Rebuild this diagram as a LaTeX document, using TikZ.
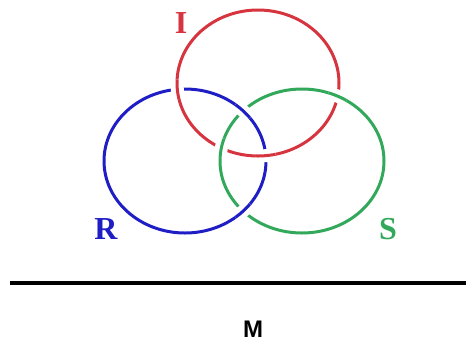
\documentclass[tikz,border=0pt]{standalone}
\usepackage{fontspec}
\setmainfont{Liberation Serif}
\setsansfont{Liberation Sans}
\usetikzlibrary{intersections}
\definecolor{ringred}{RGB}{214,52,62}
\definecolor{ringblue}{RGB}{30,30,196}
\definecolor{ringgreen}{RGB}{50,168,90}

\begin{document}
\begin{tikzpicture}[x=1pt, y=-1pt,
    ring/.style={line width=3pt},
    gap/.style={white, line width=13pt},
    lbl/.style={font=\bfseries\fontsize{32}{32}\selectfont}]
    \useasboundingbox (0,0) rectangle (466,341);
    \coordinate (O_I) at (258,83);
    \coordinate (O_R) at (185,161);
    \coordinate (O_S) at (302,161);
    \draw[ring, ringred, name path=I] (O_I) ellipse [x radius=81pt, y radius=73pt];
    \draw[ring, ringblue, name path=R] (O_R) ellipse [x radius=81pt, y radius=72pt];
    \draw[ring, ringgreen, name path=S] (O_S) ellipse [x radius=82pt, y radius=72pt];
    % red over blue
    \path[name intersections={of=I and R, name=IR}];
    \foreach \k in {1,2} {
        \begin{scope}
            \clip (IR-\k) circle (10pt);
            \draw[gap] (O_I) ellipse [x radius=81pt, y radius=73pt];
            \draw[ring, ringred] (O_I) ellipse [x radius=81pt, y radius=73pt];
        \end{scope}
    }
    % blue over green
    \path[name intersections={of=R and S, name=RS}];
    \foreach \k in {1,2} {
        \begin{scope}
            \clip (RS-\k) circle (10pt);
            \draw[gap] (O_R) ellipse [x radius=81pt, y radius=72pt];
            \draw[ring, ringblue] (O_R) ellipse [x radius=81pt, y radius=72pt];
        \end{scope}
    }
    % green over red
    \path[name intersections={of=S and I, name=SI}];
    \foreach \k in {1,2} {
        \begin{scope}
            \clip (SI-\k) circle (10pt);
            \draw[gap] (O_S) ellipse [x radius=82pt, y radius=72pt];
            \draw[ring, ringgreen] (O_S) ellipse [x radius=82pt, y radius=72pt];
        \end{scope}
    }
    \node[lbl, text=ringred] (I_lbl) at (181,23) {I};
    \node[lbl, text=ringblue] (R_lbl) at (106,229) {R};
    \node[lbl, text=ringgreen] (S_lbl) at (388,229) {S};
    \coordinate (M_left) at (10,283);
    \coordinate (M_right) at (466,283);
    \draw[line width=4pt] (M_left) -- (M_right);
    \node[inner sep=0pt, font=\sffamily\bfseries\fontsize{24}{24}\selectfont] (M) at (253,329) {M};
\end{tikzpicture}
\end{document}
